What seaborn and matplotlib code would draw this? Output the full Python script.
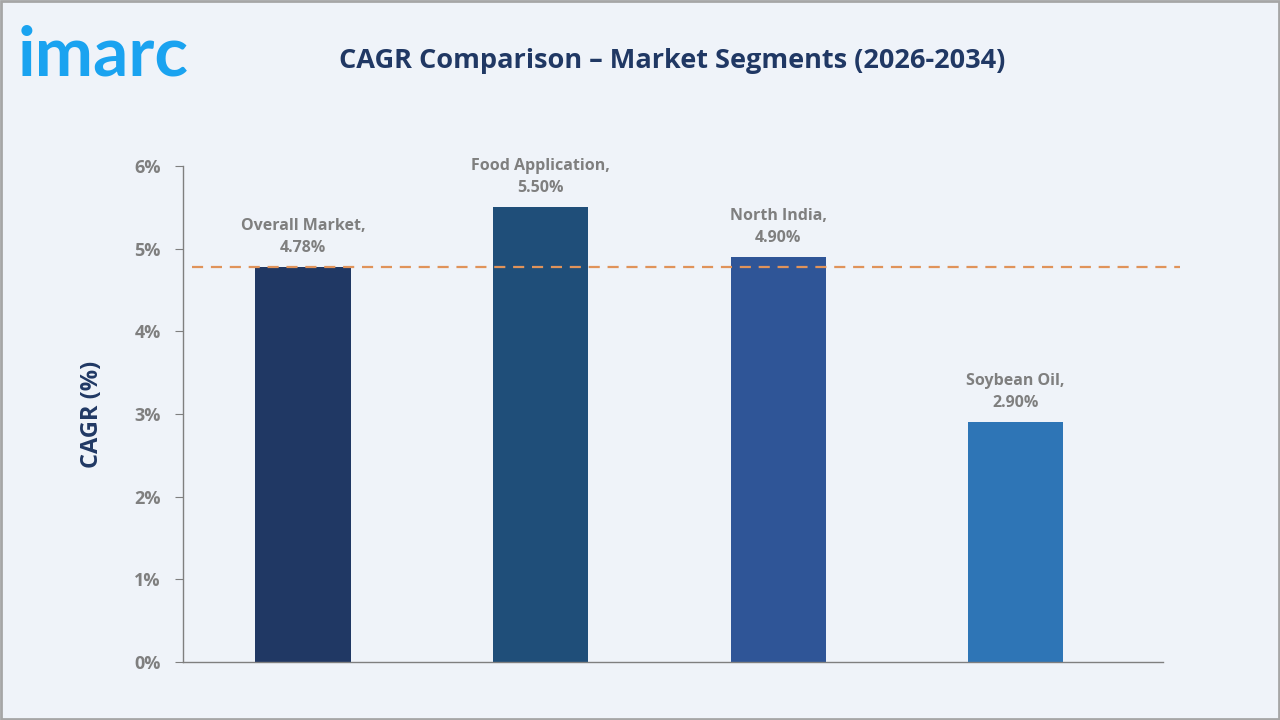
import numpy as np
import pandas as pd
import matplotlib
matplotlib.use("Agg")
import matplotlib.pyplot as plt
import seaborn as sns

segments = ["Overall Market", "Food Application", "North India", "Soybean Oil"]
cagr = [4.78, 5.50, 4.90, 2.90]
bar_colors = ["#203864", "#1F4E79", "#2F5597", "#2E75B6"]
y_ticks = [0, 1, 2, 3, 4, 5, 6]
y_tick_labels = ["0%", "1%", "2%", "3%", "4%", "5%", "6%"]

df = pd.DataFrame({"segment": segments, "cagr": cagr})

sns.set_style("white")
plt.rcParams["font.family"] = ["Open Sans", "DejaVu Sans"]

bg = "#EFF3F9"
fig = plt.figure(figsize=(12.8, 7.2), dpi=100, facecolor=bg)
ax = fig.add_axes([0.143, 0.0806, 0.7656, 0.6889])
ax.set_facecolor(bg)

sns.barplot(data=df, x="segment", y="cagr", hue="segment", palette=bar_colors,
            width=0.4, legend=False, ax=ax, saturation=1, linewidth=0)

ax.set_ylim(0, 6)
ax.set_xlim(-0.505, 3.62)
ax.set_yticks(y_ticks)
ax.set_yticklabels(y_tick_labels, fontsize=13, fontweight="bold", color="#7F7F7F")
ax.set_xticks([])
ax.set_xlabel("")
ax.set_ylabel("CAGR (%)", fontsize=17, fontweight="bold", color="#203864", labelpad=22)
ax.tick_params(axis="y", direction="out", length=6, color="#7F7F7F", pad=10, left=True)

for s in ["top", "right"]:
    ax.spines[s].set_visible(False)
for s in ["left", "bottom"]:
    ax.spines[s].set_color("#7F7F7F")
    ax.spines[s].set_linewidth(1)

# reference line at overall market CAGR
ax.axhline(cagr[0], xmin=0.009, xmax=1.017, color="#E0935A", linestyle=(0, (5, 3.5)),
           linewidth=1.6, clip_on=False, zorder=1)

for i, (name, val) in enumerate(zip(segments, cagr)):
    ax.annotate(f"{name},\n{val:.2f}%", xy=(i, val), xytext=(0, 8),
                textcoords="offset points", ha="center", va="bottom",
                fontsize=11.5, fontweight="bold", color="#7F7F7F", linespacing=1.5)

fig.text(0.525, 0.915, "CAGR Comparison \u2013 Market Segments (2026-2034)", ha="center",
         va="center", fontsize=19.5, fontweight="bold", color="#203864")
fig.text(0.014, 0.922, "imarc", ha="left", va="center", fontsize=50,
         fontweight="bold", color="#1AA3F0", family=["Lato", "DejaVu Sans"])

# outer frame
fig.patches.append(plt.Rectangle((0.001, 0.001), 0.998, 0.998, transform=fig.transFigure,
                                 fill=False, edgecolor="#A6A6A6", linewidth=2))

fig.savefig("out.png", dpi=100, facecolor=bg)
